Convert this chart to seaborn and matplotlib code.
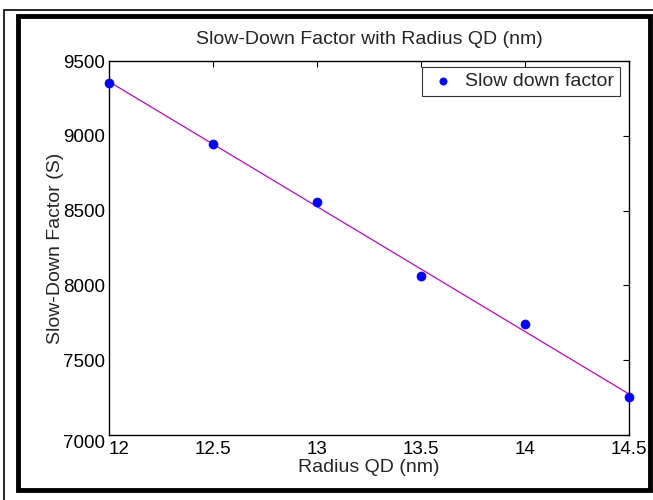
import numpy as np
import pandas as pd
import matplotlib
matplotlib.use("Agg")
import matplotlib.pyplot as plt
import seaborn as sns
from matplotlib.patches import Rectangle
from matplotlib.lines import Line2D

radius = [12.0, 12.5, 13.0, 13.5, 14.0, 14.5]
slow_down = [9355, 8943, 8557, 8063, 7740, 7252]
x_ticks = [12, 12.5, 13, 13.5, 14, 14.5]
x_tick_labels = ["12", "12.5", "13", "13.5", "14", "14.5"]
y_ticks = [7000, 7500, 8000, 8500, 9000, 9500]

sns.set_style("white")
plt.rcParams['font.family'] = ['Liberation Sans', 'DejaVu Sans']

df = pd.DataFrame({"r": radius, "s": slow_down})
coef = np.polyfit(df["r"], df["s"], 1)
fit = pd.DataFrame({"r": [radius[0], radius[-1]]})
fit["s"] = np.polyval(coef, fit["r"])

W, H = 653, 500
fig = plt.figure(figsize=(W / 100, H / 100), dpi=100)
L, R, T, B = 109, 629, 61, 435
ax = fig.add_axes([L / W, 1 - B / H, (R - L) / W, (B - T) / H])

sns.lineplot(data=fit, x="r", y="s", ax=ax, color="#cc00cc", lw=0.9)
sns.scatterplot(data=df, x="r", y="s", ax=ax, color="blue", s=42,
                edgecolor="blue", marker="o", zorder=3, label="Slow down factor",
                clip_on=False)

ax.set_xlim(12, 14.5)
ax.set_ylim(7000, 9500)
ax.set_xticks(x_ticks)
ax.set_xticklabels(x_tick_labels)
ax.set_yticks(y_ticks)
ax.tick_params(direction="in", length=4, width=0.8, labelsize=13.5, top=True, right=True,
               colors="black")
ax.tick_params(axis="y", pad=3)
ax.tick_params(axis="x", pad=4)
xl = ax.get_xticklabels()
xl[0].set_horizontalalignment("left")
yl = ax.get_yticklabels()
yl[0].set_verticalalignment("top")
for sp in ax.spines.values():
    sp.set_color("black")
    sp.set_linewidth(1.0)
ax.set_title("Slow-Down Factor with Radius QD (nm)", fontsize=14, pad=12)
ax.set_xlabel("Radius QD (nm)", fontsize=14, labelpad=1)
ax.set_ylabel("Slow-Down Factor (S)", fontsize=14, labelpad=-1)

leg = ax.legend(loc="upper right", bbox_to_anchor=((620 - L) / (R - L), (B - 67) / (B - T)),
                borderaxespad=0, fontsize=14, frameon=True, fancybox=False,
                borderpad=0.3, handletextpad=0.4, handlelength=1.5, markerscale=0.8)
leg.get_frame().set_edgecolor("black")
leg.get_frame().set_linewidth(0.8)

# borders
fig.add_artist(Rectangle((18 / W, 1 - 490 / H), (650 - 18) / W, (490 - 16) / H,
                         transform=fig.transFigure, fill=False, edgecolor="black", lw=3.5))
fig.add_artist(Line2D([4 / W, 4 / W], [0, 1 - 10 / H], transform=fig.transFigure, color="black", lw=1.2))
fig.add_artist(Line2D([4 / W, 1], [1 - 10 / H, 1 - 10 / H], transform=fig.transFigure, color="black", lw=1.2))

fig.savefig("out.png", dpi=100)
